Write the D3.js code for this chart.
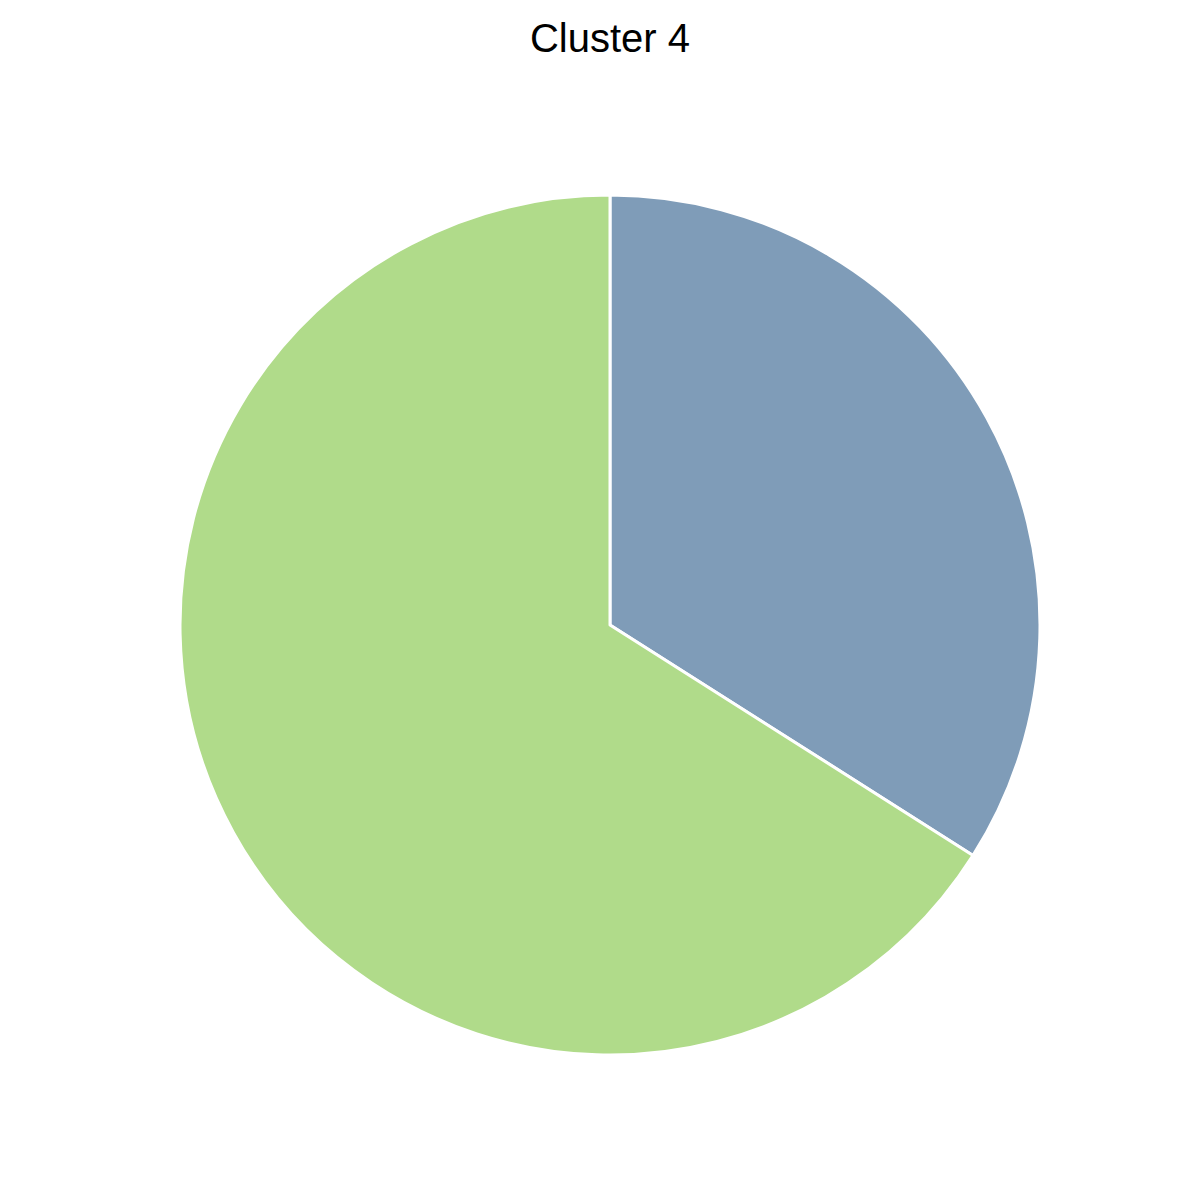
<!DOCTYPE html>
<html><head><meta charset="utf-8">
<script src="https://cdn.jsdelivr.net/npm/d3@7"></script>
<style>body{margin:0;background:#fff}</style>
</head><body>
<svg id="c" width="1200" height="1200"></svg>
<script>
const categories = ["A", "B"];
const values = [34, 66];
const colors = ["#7f9cb8", "#b0db8a"];
const title = "Cluster 4";

const svg = d3.select("#c");
svg.append("rect").attr("width",1200).attr("height",1200).attr("fill","#fff");
svg.append("text").attr("x",610).attr("y",52).attr("text-anchor","middle")
  .attr("font-family","Liberation Sans, Arial, sans-serif").attr("font-size",40).attr("fill","#000").text(title);

const pie = d3.pie().sort(null).value(d=>d)(values);
const arc = d3.arc().innerRadius(0).outerRadius(430);
const g = svg.append("g").attr("transform","translate(610,625)");
g.selectAll("path").data(pie).join("path")
  .attr("d",arc).attr("fill",(d,i)=>colors[i])
  .attr("stroke","#fff").attr("stroke-width",3).attr("stroke-linejoin","round");
</script>
</body></html>
